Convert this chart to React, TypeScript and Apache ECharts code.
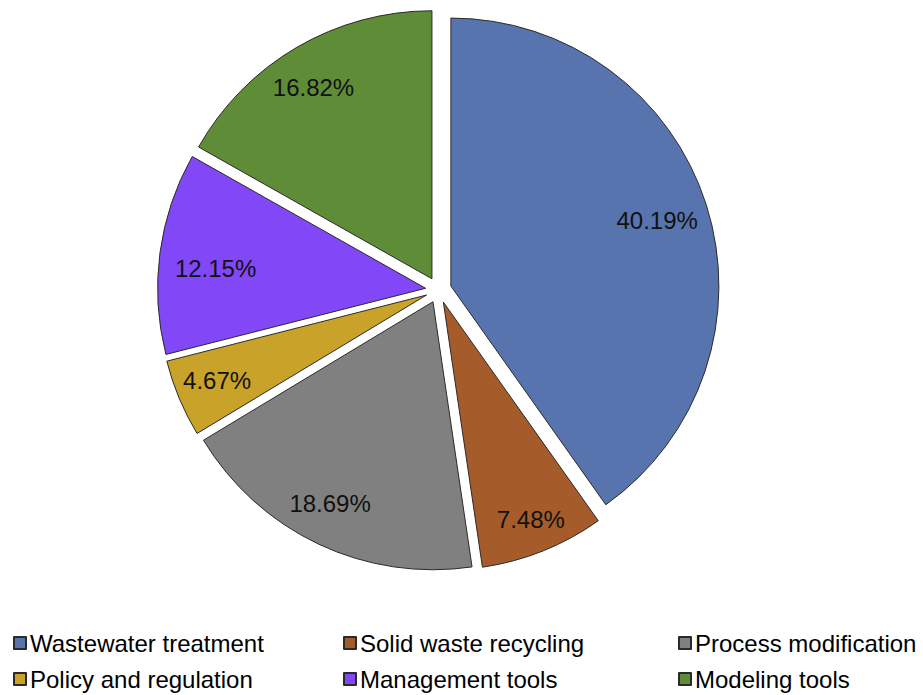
import React, { useEffect, useRef } from "react";
import * as echarts from "echarts";

const categories = [
  "Wastewater treatment",
  "Solid waste recycling",
  "Process modification",
  "Policy and regulation",
  "Management tools",
  "Modeling tools",
];
const shares = [40.19, 7.48, 18.69, 4.67, 12.15, 16.82];
const colors = ["#5874AE", "#A65C2A", "#808080", "#C8A229", "#8247F6", "#5F8C36"];
// small per-label nudges (pixels) to mimic the original label placement
const labelNudges = [
  [-10, 3],
  [3, 7],
  [-6, -4],
  [0, -2],
  [15, 10],
  [-4, 5],
];
const legendColumns = [
  ["Wastewater treatment", "Policy and regulation"],
  ["Solid waste recycling", "Management tools"],
  ["Process modification", "Modeling tools"],
];
const legendLefts = [13, 343, 678];

export default function App() {
  const ref = useRef<HTMLDivElement>(null);
  useEffect(() => {
    if (!ref.current) return;
    const chart = echarts.init(ref.current, undefined, { renderer: "svg" });
    const font = "'Liberation Sans', Arial, sans-serif";
    const baseData = categories.map((name, i) => ({
      name,
      value: shares[i],
      selected: true,
      itemStyle: { color: colors[i] },
    }));
    chart.setOption({
      animation: false,
      backgroundColor: "#ffffff",
      legend: legendColumns.map((col, i) => ({
        data: col,
        orient: "vertical",
        left: legendLefts[i],
        top: 630,
        itemWidth: 12,
        itemHeight: 12,
        itemGap: 10,
        icon: "rect",
        selectedMode: false,
        padding: 0,
        textStyle: { fontFamily: font, fontSize: 24, color: "#000", lineHeight: 26, padding: [0, 0, 0, -1] },
      })),
      series: [
        {
          type: "pie",
          center: [438.5, 290],
          radius: [0, 268],
          startAngle: 90,
          clockwise: true,
          selectedMode: "multiple",
          selectedOffset: 13,
          label: { show: false },
          labelLine: { show: false },
          itemStyle: { borderColor: "#2a2a2a", borderWidth: 1 },
          emphasis: { disabled: true },
          select: { itemStyle: { borderColor: "#2a2a2a", borderWidth: 1 } },
          data: baseData,
        },
        {
          type: "pie",
          center: [438.5, 290],
          radius: [180, 268],
          startAngle: 90,
          clockwise: true,
          silent: true,
          legendHoverLink: false,
          selectedMode: "multiple",
          selectedOffset: 13,
          itemStyle: { color: "rgba(0,0,0,0)", borderWidth: 0 },
          select: { itemStyle: { color: "rgba(0,0,0,0)", borderWidth: 0 } },
          emphasis: { disabled: true },
          labelLine: { show: false },
          label: {
            show: true,
            position: "inside",
            formatter: "{c}%",
            fontFamily: font,
            fontSize: 24,
            color: "#111",
          },
          labelLayout: (params: any) => {
            const n = labelNudges[params.dataIndex] || [0, 0];
            return { dx: n[0], dy: n[1] };
          },
          data: categories.map((name, i) => ({
            name,
            value: shares[i],
            selected: true,
            itemStyle: { color: "rgba(0,0,0,0)" },
          })),
        },
      ],
    });
    return () => chart.dispose();
  }, []);
  return (
    <div
      ref={ref}
      style={{ position: "fixed", left: 0, top: 0, width: 923, height: 695, background: "#fff" }}
    />
  );
}
